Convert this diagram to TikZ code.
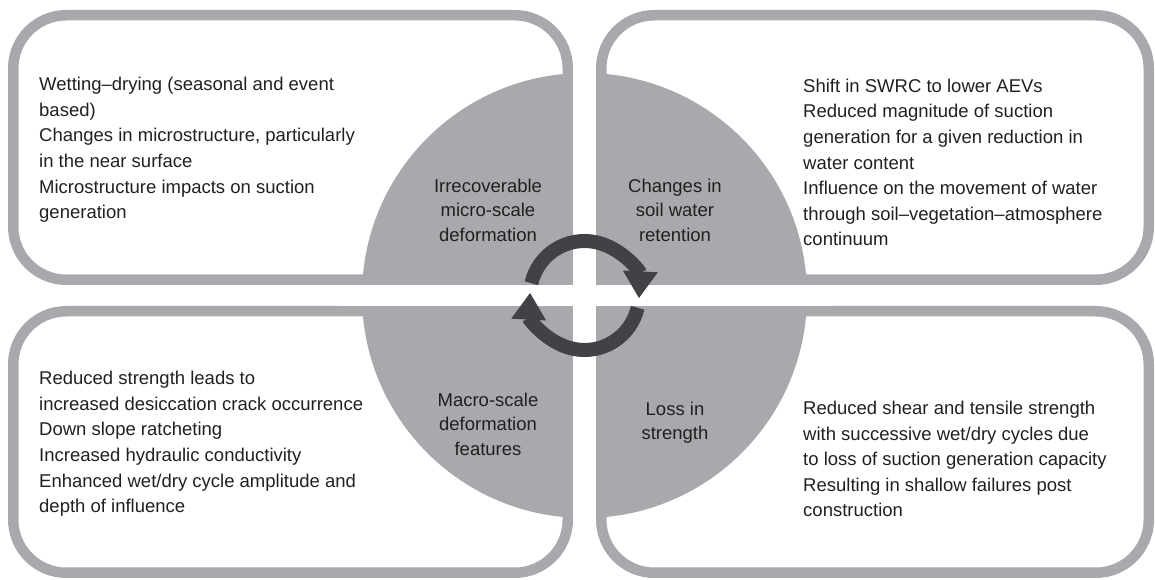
\documentclass[tikz,border=0pt]{standalone}
\usepackage{fontspec}
\setmainfont{Liberation Sans}
\usetikzlibrary{arrows.meta, positioning, calc}
\definecolor{ringgray}{HTML}{A8A9AD}
\definecolor{arrowgray}{HTML}{414245}
\definecolor{inkgray}{HTML}{231F20}
\tikzset{
    panel/.style={draw=ringgray, line width=10.5pt, rounded corners=53pt},
    note/.style={anchor=west, align=left, text=inkgray, inner sep=0pt, font=\fontsize{18.5}{25.6}\selectfont},
    hublabel/.style={align=center, text=inkgray, inner sep=0pt, font=\fontsize{18.5}{24.5}\selectfont},
    turnarrow/.style={draw=arrowgray, line width=14pt, -{Triangle[width=33pt, length=27pt]}}
}

\begin{document}
\begin{tikzpicture}[x=1pt, y=1pt]
    \useasboundingbox (0,0) rectangle (1155,580);
    \coordinate (hub) at (584.5,284.5);

    \draw[panel] (13.25,300.25) rectangle (567.75,564.75);
    \draw[panel] (601.25,300.25) rectangle (1148.75,564.75);
    \draw[panel] (13.25,7.25) rectangle (567.75,268.75);
    \draw[panel] (601.25,7.25) rectangle (1148.75,268.75);

    \fill[ringgray] (hub) circle (222.5);
    \fill[white] (573,50) rectangle (596,520);
    \fill[white] (340,274) rectangle (830,295);

    \node[hublabel] (micro) at ([shift={(-96.5,85.5)}]hub) {Irrecoverable\\micro-scale\\deformation};
    \node[hublabel] (retention) at ([shift={(90.5,85.5)}]hub) {Changes in\\soil water\\retention};
    \node[hublabel] (macro) at ([shift={(-96.5,-128.5)}]hub) {Macro-scale\\deformation\\features};
    \node[hublabel] (strength) at ([shift={(90.5,-127)}]hub) {Loss in\\strength};

    \draw[turnarrow] ([shift={(167:54.5)}]hub) arc[start angle=167, end angle=-3, radius=54.5];
    \draw[turnarrow] ([shift={(-13:54.5)}]hub) arc[start angle=-13, end angle=-183, radius=54.5];

    \node[note] (micronote) at (39,430) {Wetting–drying (seasonal and event\\based)\\Changes in microstructure, particularly\\in the near surface\\Microstructure impacts on suction\\generation};
    \node[note] (retentionnote) at (803,417.5) {Shift in SWRC to lower AEVs\\Reduced magnitude of suction\\generation for a given reduction in\\water content\\Influence on the movement of water\\through soil–vegetation–atmosphere\\continuum};
    \node[note] (macronote) at (39,136) {Reduced strength leads to\\increased desiccation crack occurrence\\Down slope ratcheting\\Increased hydraulic conductivity\\Enhanced wet/dry cycle amplitude and\\depth of influence};
    \node[note] (strengthnote) at (803,121) {Reduced shear and tensile strength\\with successive wet/dry cycles due\\to loss of suction generation capacity\\Resulting in shallow failures post\\construction};
\end{tikzpicture}
\end{document}
